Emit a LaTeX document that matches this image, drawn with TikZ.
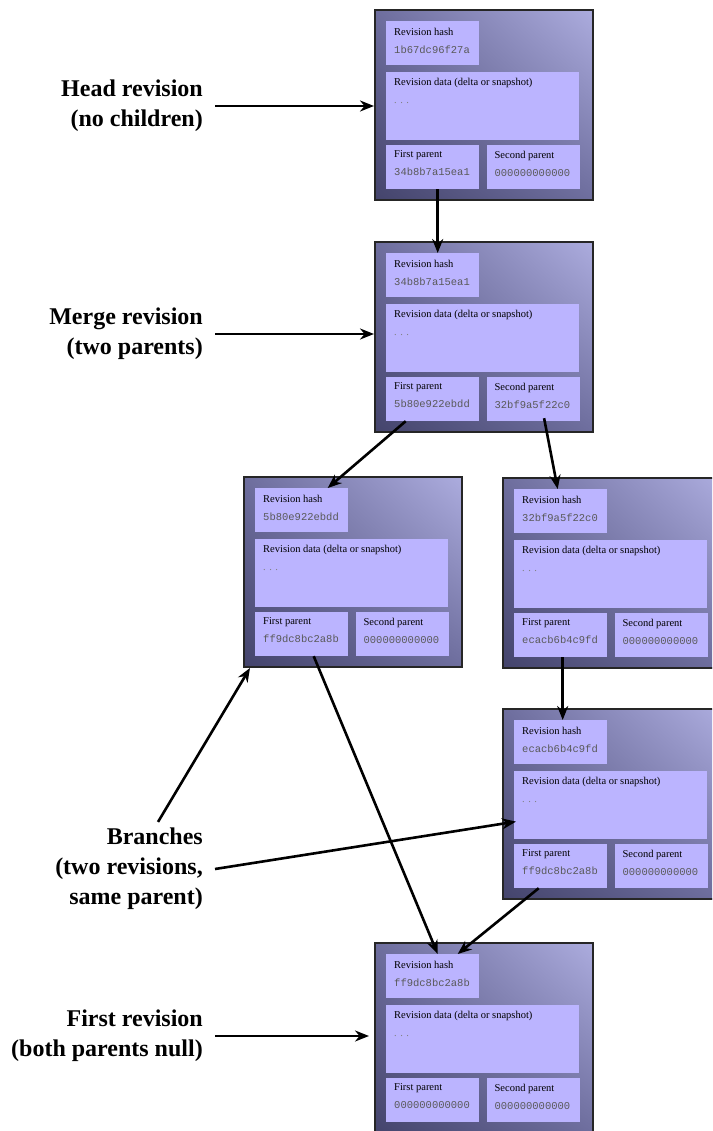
\documentclass[tikz,border=0pt]{standalone}
\usepackage{fontspec}
\setmainfont{Liberation Serif}
\setmonofont{Liberation Mono}
\usetikzlibrary{calc,positioning,shadings,arrows.meta}

\definecolor{boxdark}{RGB}{68,68,108}
\definecolor{boxmid}{RGB}{110,110,158}
\definecolor{boxlight}{RGB}{172,172,222}
\definecolor{fieldfill}{RGB}{187,180,255}

\tikzset{
  revbox/.style={draw=black!85, line width=2pt, minimum width=218pt, minimum height=190pt, inner sep=0pt,
    lower left=boxdark, upper right=boxlight, upper left=boxmid, lower right=boxmid},
  field/.style={fill=fieldfill, inner sep=0pt, anchor=north west},
  fieldtext/.style={anchor=north west, inner sep=0pt, align=left, font=\fontsize{10.5}{18}\selectfont},
  caption/.style={anchor=east, align=right, inner xsep=12pt, inner ysep=0pt, font=\bfseries\fontsize{24}{30}\selectfont},
  link/.style={line width=2.6pt, -{Stealth[length=14pt,width=11pt]}},
}

% #1 name, #2 top left corner, #3 hash, #4 first parent, #5 second parent
\newcommand{\revision}[5]{
  \node[revbox, anchor=north west] (#1) at (#2) {};
  \node[field, minimum width=93pt, minimum height=44pt] (#1h) at ($(#1.north west)+(12,12)$) {};
  \node[field, minimum width=193pt, minimum height=68pt, below=6pt of #1h.south west, anchor=north west] (#1d) {};
  \node[field, minimum width=93pt, minimum height=44pt, below=5pt of #1d.south west, anchor=north west] (#1a) {};
  \node[field, minimum width=93pt, minimum height=44pt, right=7pt of #1a.north east, anchor=north west] (#1b) {};
  \node[fieldtext] (#1ht) at ($(#1h.north west)+(8,7)$) {Revision hash\\\textcolor{black!65}{\ttfamily #3}};
  \node[fieldtext] (#1dt) at ($(#1d.north west)+(8,7)$) {Revision data (delta or snapshot)\\\textcolor{black!50}{. . .}};
  \node[fieldtext] (#1at) at ($(#1a.north west)+(8,6)$) {First parent\\\textcolor{black!65}{\ttfamily #4}};
  \node[fieldtext] (#1bt) at ($(#1b.north west)+(8,6)$) {Second parent\\\textcolor{black!65}{\ttfamily #5}};
}

\begin{document}
\begin{tikzpicture}[x=1pt, y=-1pt]
    \useasboundingbox (0,0) rectangle (712,1131);
    \clip (0,0) rectangle (712,1131);

    % the revisions
    \revision{r1}{374,9}{1b67dc96f27a}{34b8b7a15ea1}{000000000000}
    \revision{r2}{374,241}{34b8b7a15ea1}{5b80e922ebdd}{32bf9a5f22c0}
    \revision{r3}{243,476}{5b80e922ebdd}{ff9dc8bc2a8b}{000000000000}
    \revision{r4}{502,477}{32bf9a5f22c0}{ecacb6b4c9fd}{000000000000}
    \revision{r5}{502,708}{ecacb6b4c9fd}{ff9dc8bc2a8b}{000000000000}
    \revision{r6}{374,942}{ff9dc8bc2a8b}{000000000000}{000000000000}

    % captions
    \node[caption] (lhead) at (215,106) {Head revision\\(no children)};
    \node[caption] (lmerge) at (215,334) {Merge revision\\(two parents)};
    \node[caption] (lbranch) at (215,869) {Branches\\(two revisions,\\same parent)};
    \node[caption] (lfirst) at (215,1036) {First revision\\(both parents null)};

    \draw[link] (lhead.east) -- (lhead.east -| r1.west);
    \draw[link] (lmerge.east) -- (lmerge.east -| r2.west);
    \draw[link] ([xshift=29pt,yshift=6pt]lbranch.north) -- ($(r3.south west)+(7,0)$);
    \draw[link] (lbranch.east) -- ($(r5d.west)+(2,17)$);
    \draw[link] (lfirst.east) -- ([xshift=-5pt]lfirst.east -| r6.west);

    % parent links
    \draw[link] ([xshift=5pt]r1a.south) -- ([xshift=5pt]r2h.north);
    \draw[link] ([xshift=-27pt]r2a.south) -- ([xshift=26pt]r3h.north);
    \draw[link] ([xshift=11pt,yshift=3pt]r2b.south) -- ([xshift=-3pt]r4h.north);
    \draw[link] ([xshift=12pt]r3a.south) -- ([xshift=5pt]r6h.north);
    \draw[link] ([xshift=2pt]r4a.south) -- ([xshift=2pt]r5h.north);
    \draw[link] ([xshift=-22pt]r5a.south) -- ([xshift=25pt]r6h.north);
\end{tikzpicture}
\end{document}
